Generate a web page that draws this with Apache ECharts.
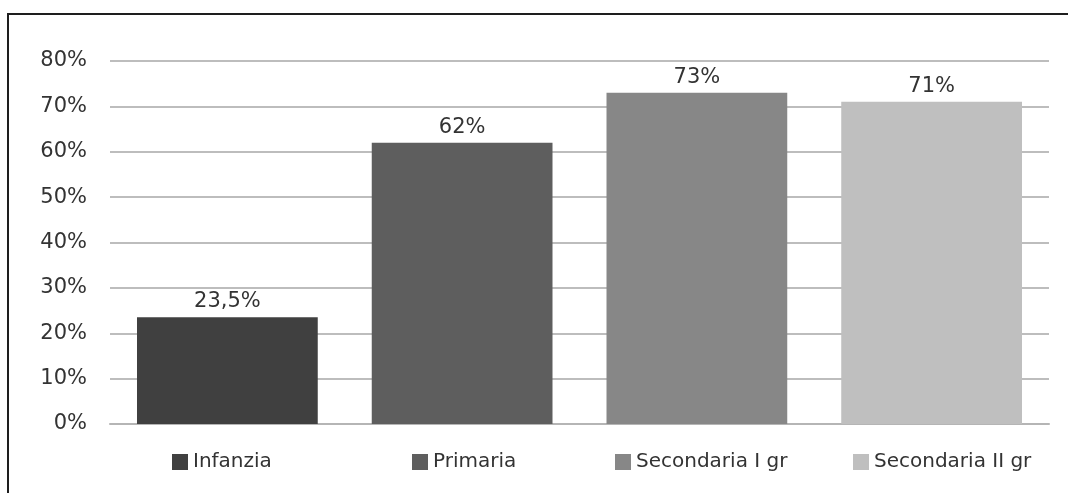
<!DOCTYPE html>
<html>
<head>
<meta charset="utf-8">
<script src="https://cdn.jsdelivr.net/npm/echarts@6/dist/echarts.min.js"></script>
<style>
  html, body { margin: 0; padding: 0; background: #fff; }
  #wrap { position: relative; width: 1068px; height: 493px; }
  #chart { width: 1068px; height: 493px; }
  #frame {
    position: absolute; left: 7px; top: 13px; right: 0; bottom: 0;
    border-top: 2px solid #1e1e1e; border-left: 2px solid #1e1e1e;
    pointer-events: none;
  }
</style>
</head>
<body>
<div id="wrap">
  <div id="chart"></div>
  <div id="frame"></div>
</div>
<script>
"use strict";

// data
var categories = ['Infanzia', 'Primaria', 'Secondaria I gr', 'Secondaria II gr'];
var values = [23.5, 62, 73, 71];
var barColors = ['#404040', '#5e5e5e', '#878787', '#bfbfbf'];
var yTicks = { min: 0, max: 80, step: 10 };

// legend x positions, one per category
var legendLeft = [172, 412, 615, 853];

var font = 'DejaVu Sans';

var series = categories.map(function (name, i) {
    var data = categories.map(function (c, j) { return j === i ? values[i] : '-'; });
    return {
        name: name,
        type: 'bar',
        data: data,
        barWidth: '77%',
        barGap: '-100%',
        itemStyle: { color: barColors[i] },
        label: {
            show: true,
            position: 'top',
            distance: 5,
            color: '#333',
            fontFamily: font,
            fontSize: 21,
            formatter: function (p) {
                return String(p.value).replace('.', ',') + '%';
            }
        }
    };
});

var legends = categories.map(function (name, i) {
    return {
        data: [name],
        left: legendLeft[i],
        top: 452,
        padding: 0,
        itemWidth: 16,
        itemHeight: 16,
        icon: 'rect',
        textStyle: { fontFamily: font, fontSize: 20, color: '#333' }
    };
});

var options = {
    animation: false,
    backgroundColor: '#fff',
    grid: { left: 110, right: 19, top: 61, bottom: 69 },
    legend: legends,
    xAxis: {
        type: 'category',
        data: categories,
        axisLine: { lineStyle: { color: '#b5b5b5', width: 2 } },
        axisTick: { show: false },
        axisLabel: { show: false }
    },
    yAxis: {
        type: 'value',
        min: yTicks.min,
        max: yTicks.max,
        interval: yTicks.step,
        axisLine: { show: false },
        axisTick: { show: false },
        axisLabel: {
            margin: 23,
            color: '#333',
            fontFamily: font,
            fontSize: 21,
            formatter: '{value}%'
        },
        splitLine: { lineStyle: { color: '#bdbdbd', width: 2 } }
    },
    series: series
};

var chart = echarts.init(document.getElementById('chart'));
chart.setOption(options);
</script>
</body>
</html>
